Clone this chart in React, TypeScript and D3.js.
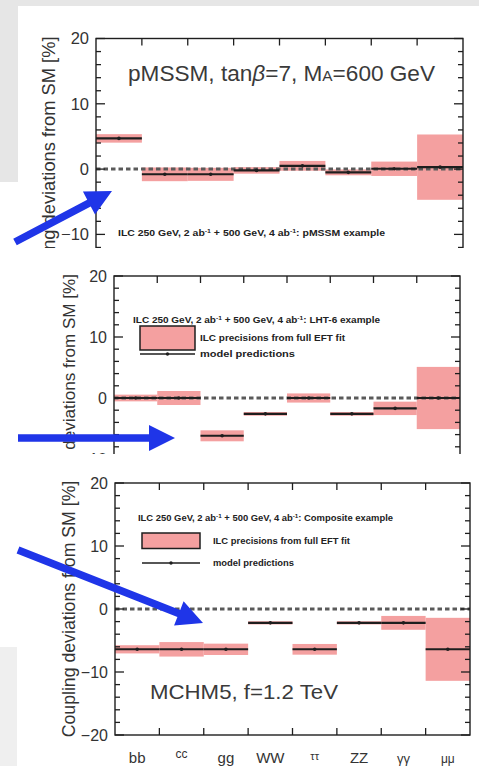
import React from 'react';
import * as d3 from 'd3';

// Higgs coupling channels along the x axis
const categories = ['bb', 'cc', 'gg', 'WW', 'ττ', 'ZZ', 'γγ', 'μμ'];
const yTickLabels = [20, 10, 0, -10, -20];

// pMSSM, tanβ=7, MA=600 GeV: model predictions and ILC precision (±, %)
const pmssmPred = [4.7, -0.8, -0.8, -0.2, 0.5, -0.5, 0.05, 0.3];
const pmssmErr = [0.65, 1.05, 1.0, 0.5, 0.75, 0.45, 1.1, 5.0];

// LHT-6 example
const lhtPred = [0, 0, -6.2, -2.6, 0, -2.6, -1.7, 0];
const lhtErr = [0.55, 1.15, 0.9, 0.3, 0.75, 0.3, 1.1, 5.1];

// Composite (MCHM5, f=1.2 TeV) example
const compPred = [-6.4, -6.4, -6.4, -2.2, -6.4, -2.2, -2.2, -6.4];
const compErr = [0.65, 1.15, 0.9, 0.25, 0.85, 0.25, 1.1, 5.0];

const FONT = "'Liberation Sans', Arial, Helvetica, sans-serif";
const PINK = '#f4a0a0';
const INK = '#1e1e1e';
const BLUE = '#1f35e8';

type PanelCfg = {
  id: string;
  left: number;
  right: number;
  yTop: number;
  yBottom: number;
  clipTop: number;
  clipBottom: number;
  labelX: number;
  labelFont: number;
  tickFont: number;
  pred: number[];
  err: number[];
};

function Panel({ cfg, children }: { cfg: PanelCfg; children?: React.ReactNode }) {
  const x = d3.scaleBand<string>().domain(categories).range([cfg.left, cfg.right]).padding(0);
  const y = d3.scaleLinear().domain([-20, 20]).range([cfg.yBottom, cfg.yTop]);
  const bw = x.bandwidth();
  const minorTicks = d3.range(-20, 20.001, 2);
  const boundaries = categories.slice(1).map((c) => x(c)!);

  return (
    <g clipPath={`url(#clip-${cfg.id})`}>
      <defs>
        <clipPath id={`clip-${cfg.id}`}>
          <rect x={0} y={cfg.clipTop} width={479} height={cfg.clipBottom - cfg.clipTop} />
        </clipPath>
      </defs>
      {/* precision boxes */}
      {categories.map((c, i) => (
        <rect
          key={'b' + c}
          x={x(c)!}
          y={y(cfg.pred[i] + cfg.err[i])}
          width={bw}
          height={y(cfg.pred[i] - cfg.err[i]) - y(cfg.pred[i] + cfg.err[i])}
          fill={PINK}
        />
      ))}
      {/* SM reference */}
      <line
        x1={cfg.left}
        x2={cfg.right}
        y1={y(0)}
        y2={y(0)}
        stroke="#5a5a5a"
        strokeWidth={3}
        strokeDasharray="4.5,3"
      />
      {/* model predictions */}
      {categories.map((c, i) => (
        <g key={'p' + c}>
          <line x1={x(c)!} x2={x(c)! + bw} y1={y(cfg.pred[i])} y2={y(cfg.pred[i])} stroke={INK} strokeWidth={2.1} />
          <circle cx={x(c)! + bw / 2} cy={y(cfg.pred[i])} r={1.8} fill={INK} />
        </g>
      ))}
      {/* frame */}
      <rect
        x={cfg.left}
        y={cfg.yTop}
        width={cfg.right - cfg.left}
        height={cfg.yBottom - cfg.yTop}
        fill="none"
        stroke={INK}
        strokeWidth={1.4}
      />
      {minorTicks.map((t) => {
        const len = t % 10 === 0 ? 9 : 5;
        return (
          <g key={'t' + t}>
            <line x1={cfg.left} x2={cfg.left + len} y1={y(t)} y2={y(t)} stroke={INK} strokeWidth={1.3} />
            <line x1={cfg.right} x2={cfg.right - len} y1={y(t)} y2={y(t)} stroke={INK} strokeWidth={1.3} />
          </g>
        );
      })}
      {boundaries.map((bx, i) => (
        <g key={'x' + i}>
          <line x1={bx} x2={bx} y1={cfg.yTop} y2={cfg.yTop + 7} stroke={INK} strokeWidth={1.3} />
          <line x1={bx} x2={bx} y1={cfg.yBottom} y2={cfg.yBottom - 7} stroke={INK} strokeWidth={1.3} />
        </g>
      ))}
      {yTickLabels.map((t) => (
        <text
          key={'l' + t}
          x={cfg.left - 7}
          y={y(t)}
          dy="0.36em"
          textAnchor="end"
          fontSize={cfg.tickFont}
          fill="#333"
          fontFamily={FONT}
        >
          {t < 0 ? '−' + Math.abs(t) : t}
        </text>
      ))}
      <text
        transform={`translate(${cfg.labelX},${y(0)}) rotate(-90)`}
        textAnchor="middle"
        fontSize={cfg.labelFont}
        fill="#333"
        fontFamily={FONT}
      >
        Coupling deviations from SM [%]
      </text>
      {children}
    </g>
  );
}

function Header({ x, y, width, tag }: { x: number; y: number; width: number; tag: string }) {
  return (
    <text
      x={x}
      y={y}
      fontSize={9}
      fontWeight="bold"
      fill="#222"
      fontFamily={FONT}
      textLength={width}
      lengthAdjust="spacingAndGlyphs"
    >
      ILC 250 GeV, 2 ab<tspan fontSize={6} dy={-3.5}>-1</tspan>
      <tspan dy={3.5}> + 500 GeV, 4 ab</tspan>
      <tspan fontSize={6} dy={-3.5}>-1</tspan>
      <tspan dy={3.5}>: {tag} example</tspan>
    </text>
  );
}

function Legend({
  bx, by, bw, bh, lineY, textX, t1w, t2w,
}: { bx: number; by: number; bw: number; bh: number; lineY: number; textX: number; t1w: number; t2w: number }) {
  return (
    <g fontFamily={FONT} fontWeight="bold" fontSize={9} fill="#222">
      <rect x={bx} y={by} width={bw} height={bh} fill={PINK} stroke={INK} strokeWidth={1.5} />
      <text x={textX} y={by + bh / 2} dy="0.35em" textLength={t1w} lengthAdjust="spacingAndGlyphs">
        ILC precisions from full EFT fit
      </text>
      <line x1={bx} x2={bx + bw} y1={lineY} y2={lineY} stroke={INK} strokeWidth={1.5} />
      <circle cx={bx + bw / 2} cy={lineY} r={1.7} fill={INK} />
      <text x={textX} y={lineY} dy="0.35em" textLength={t2w} lengthAdjust="spacingAndGlyphs">
        model predictions
      </text>
    </g>
  );
}

function Arrow({ x1, y1, x2, y2 }: { x1: number; y1: number; x2: number; y2: number }) {
  const dx = x2 - x1;
  const dy = y2 - y1;
  const len = Math.hypot(dx, dy);
  const ux = dx / len;
  const uy = dy / len;
  const px = -uy;
  const py = ux;
  const headL = 26;
  const headW = 13;
  const shaftW = 3.8;
  const bx = x2 - ux * headL;
  const by = y2 - uy * headL;
  const pts = [
    [x1 + px * shaftW, y1 + py * shaftW],
    [bx + px * shaftW, by + py * shaftW],
    [bx + px * headW, by + py * headW],
    [x2, y2],
    [bx - px * headW, by - py * headW],
    [bx - px * shaftW, by - py * shaftW],
    [x1 - px * shaftW, y1 - py * shaftW],
  ];
  return <polygon points={pts.map((p) => p.join(',')).join(' ')} fill={BLUE} />;
}

const panels: PanelCfg[] = [
  {
    id: 'pmssm', left: 96, right: 463, yTop: 38.5, yBottom: 38.5 + 40 * 6.53,
    clipTop: 20, clipBottom: 248, labelX: 55, labelFont: 18.3, tickFont: 16.5,
    pred: pmssmPred, err: pmssmErr,
  },
  {
    id: 'lht', left: 114, right: 460, yTop: 276, yBottom: 276 + 40 * 6.1,
    clipTop: 262, clipBottom: 454, labelX: 75, labelFont: 17.1, tickFont: 16,
    pred: lhtPred, err: lhtErr,
  },
  {
    id: 'comp', left: 115, right: 470, yTop: 483, yBottom: 735,
    clipTop: 468, clipBottom: 766, labelX: 75, labelFont: 17.7, tickFont: 16,
    pred: compPred, err: compErr,
  },
];

const catLabelStyle: Record<string, { size: number; dy: number }> = {
  bb: { size: 15, dy: 0 },
  cc: { size: 12, dy: -5 },
  gg: { size: 15, dy: 0 },
  WW: { size: 15, dy: 0 },
  'ττ': { size: 11, dy: -3 },
  ZZ: { size: 15, dy: 0 },
  'γγ': { size: 13, dy: 0 },
  'μμ': { size: 12, dy: 0 },
};

export default function App() {
  const p3 = panels[2];
  const x3 = d3.scaleBand<string>().domain(categories).range([p3.left, p3.right]);
  return (
    <svg
      width={479}
      height={766}
      viewBox="0 0 479 766"
      style={{ position: 'absolute', left: 0, top: 0, display: 'block', background: '#fff' }}
    >
      <rect x={0} y={0} width={479} height={766} fill="#fff" />
      <rect x={0} y={0} width={479} height={6} fill="#e6e6e6" />
      <rect x={0} y={0} width={18} height={182} fill="#e6e6e6" />
      <rect x={0} y={647} width={17} height={119} fill="#efefef" />

      <Panel cfg={panels[0]}>
        <text x={128} y={81} fontSize={22} fill="#3a3a3a" fontFamily={FONT} textLength={307} lengthAdjust="spacingAndGlyphs">
          pMSSM, tan<tspan fontStyle="italic">β</tspan>=7, M<tspan fontSize={15}>A</tspan>=600 GeV
        </text>
        <Header x={118} y={236} width={267} tag="pMSSM" />
      </Panel>

      <Panel cfg={panels[1]}>
        <Header x={133} y={323} width={247} tag="LHT-6" />
        <Legend bx={140} by={326} bw={55} bh={24} lineY={354} textX={200} t1w={145} t2w={95} />
      </Panel>

      <Panel cfg={panels[2]}>
        <Header x={138} y={521} width={255} tag="Composite" />
        <Legend bx={142} by={533} bw={58} bh={15.5} lineY={563} textX={213} t1w={137} t2w={81} />
        <text x={150} y={699} fontSize={21} fill="#3a3a3a" fontFamily={FONT} textLength={188} lengthAdjust="spacingAndGlyphs">
          MCHM5, f=1.2 TeV
        </text>
      </Panel>

      {categories.map((c) => (
        <text
          key={'c' + c}
          x={x3(c)! + x3.bandwidth() / 2}
          y={763 + catLabelStyle[c].dy}
          textAnchor="middle"
          fontSize={catLabelStyle[c].size}
          fill="#333"
          fontFamily={FONT}
        >
          {c}
        </text>
      ))}

      <Arrow x1={15} y1={242} x2={112} y2={191} />
      <Arrow x1={18} y1={438} x2={175} y2={438} />
      <Arrow x1={18} y1={550} x2={203} y2={623} />
    </svg>
  );
}
